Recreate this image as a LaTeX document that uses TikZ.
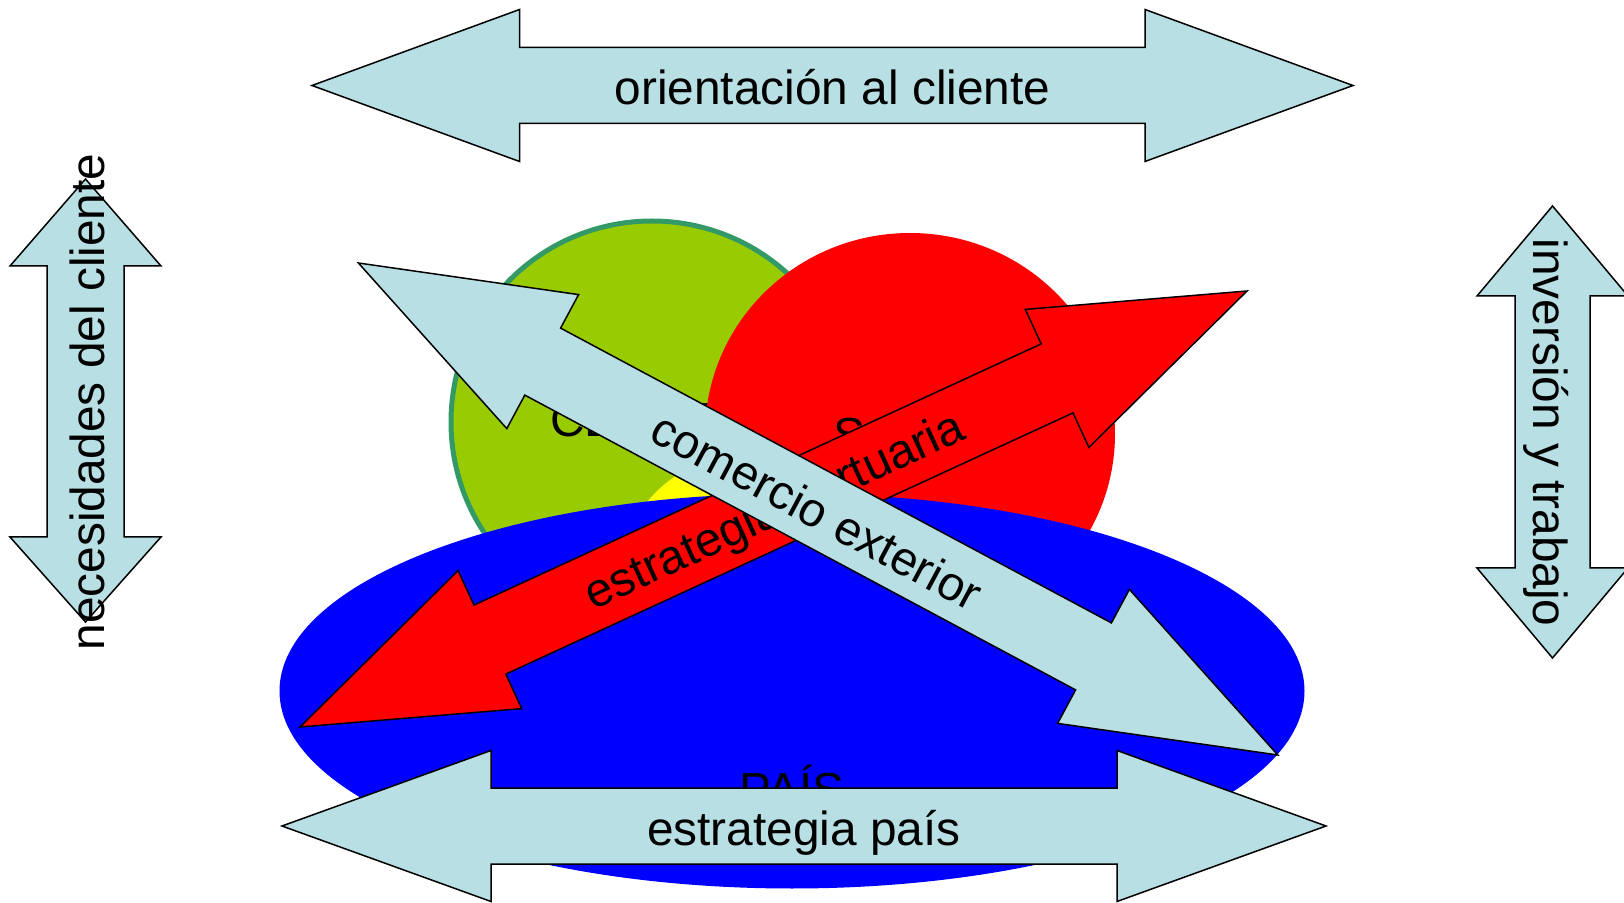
\documentclass[tikz,border=0pt]{standalone}
\usepackage{fontspec}
\setmainfont{Liberation Sans}
\usetikzlibrary{calc}
\definecolor{flecha}{RGB}{184,223,227}
\definecolor{verde}{RGB}{153,204,0}
\definecolor{verdeborde}{RGB}{51,153,102}
\definecolor{rojo}{RGB}{255,0,0}
\definecolor{azul}{RGB}{0,0,255}
\definecolor{amarillo}{RGB}{255,255,0}
\tikzset{
  flechaclara/.style = {draw=black, fill=flecha, line width=0.75pt},
  flecharoja/.style  = {draw=black, fill=rojo, line width=0.75pt},
  rotulo/.style      = {font=\fontsize{23.9}{28}\selectfont, inner sep=0pt, anchor=base},
}

\begin{document}
\begin{tikzpicture}[x=0.5pt, y=-0.5pt]
  \useasboundingbox (0,0) rectangle (1624,903);
  % circulos
  \draw[verdeborde, line width=2.5pt, fill=verde] (652,422) circle[radius=201];
  \node[rotulo] (cliente) at (651,437) {CLIENTE};
  \fill[amarillo] (748,584) circle[radius=130];
  \fill[rojo] (910,434) ellipse[x radius=205, y radius=201];
  \node[rotulo] (socio) at (911,452) {SOCIO};
  \fill[azul] (792,691) ellipse[x radius=512.5, y radius=197.5];
  \node[rotulo] (pais) at (792,806) {PAÍS};

  % flechas horizontales
  \draw[flechaclara] (312,85.5) -- (519.5,9.5) -- (519.5,47.5) -- (1145,47.5) -- (1145,9.5)
    -- (1353,85.5) -- (1145,161.5) -- (1145,123.5) -- (519.5,123.5) -- (519.5,161.5) -- cycle;
  \node[rotulo] (orientacion) at (832.5,104.5) {orientación al cliente};
  \draw[flechaclara] (282,826) -- (491,750.5) -- (491,788) -- (1117,788) -- (1117,750.5)
    -- (1326,826) -- (1117,901.5) -- (1117,864) -- (491,864) -- (491,901.5) -- cycle;
  \node[rotulo] (estrategiapais) at (804,845) {estrategia país};

  % flechas verticales
  \draw[flechaclara] (85.5,179) -- (161,266) -- (124,266) -- (124,537) -- (161,537)
    -- (85.5,622) -- (10,537) -- (47,537) -- (47,266) -- (10,266) -- cycle;
  \node[rotulo, rotate=90] (necesidades) at (104.5,402) {necesidades del cliente};
  \draw[flechaclara] (1552.5,206) -- (1628,296) -- (1590,296) -- (1590,568) -- (1628,568)
    -- (1552.5,658) -- (1477,568) -- (1515,568) -- (1515,296) -- (1477,296) -- cycle;
  \node[rotulo, rotate=-90] (inversion) at (1533.5,432.5) {inversión y trabajo};

  % flechas cruzadas
  \draw[flecharoja] (300,727) -- (458.1,570.6) -- (474,605.1) -- (1041.2,343.9) -- (1025.3,309.4)
    -- (1247,291) -- (1088.9,447.4) -- (1073,412.9) -- (505.8,674.1) -- (521.7,708.6) -- cycle;
  \node[rotulo, rotate=24.72] (portuaria) at (780.6,524.4) {estrategia portuaria};
  \draw[flechaclara] (358.4,263) -- (578.6,294.6) -- (560.6,328.1) -- (1111.4,622.9) -- (1129.4,589.4)
    -- (1277.8,755) -- (1057.6,723.4) -- (1075.6,689.9) -- (524.8,395.1) -- (506.8,428.6) -- cycle;
  \node[rotulo, rotate=-28.15] (comercio) at (809,525.8) {comercio exterior};
\end{tikzpicture}
\end{document}
